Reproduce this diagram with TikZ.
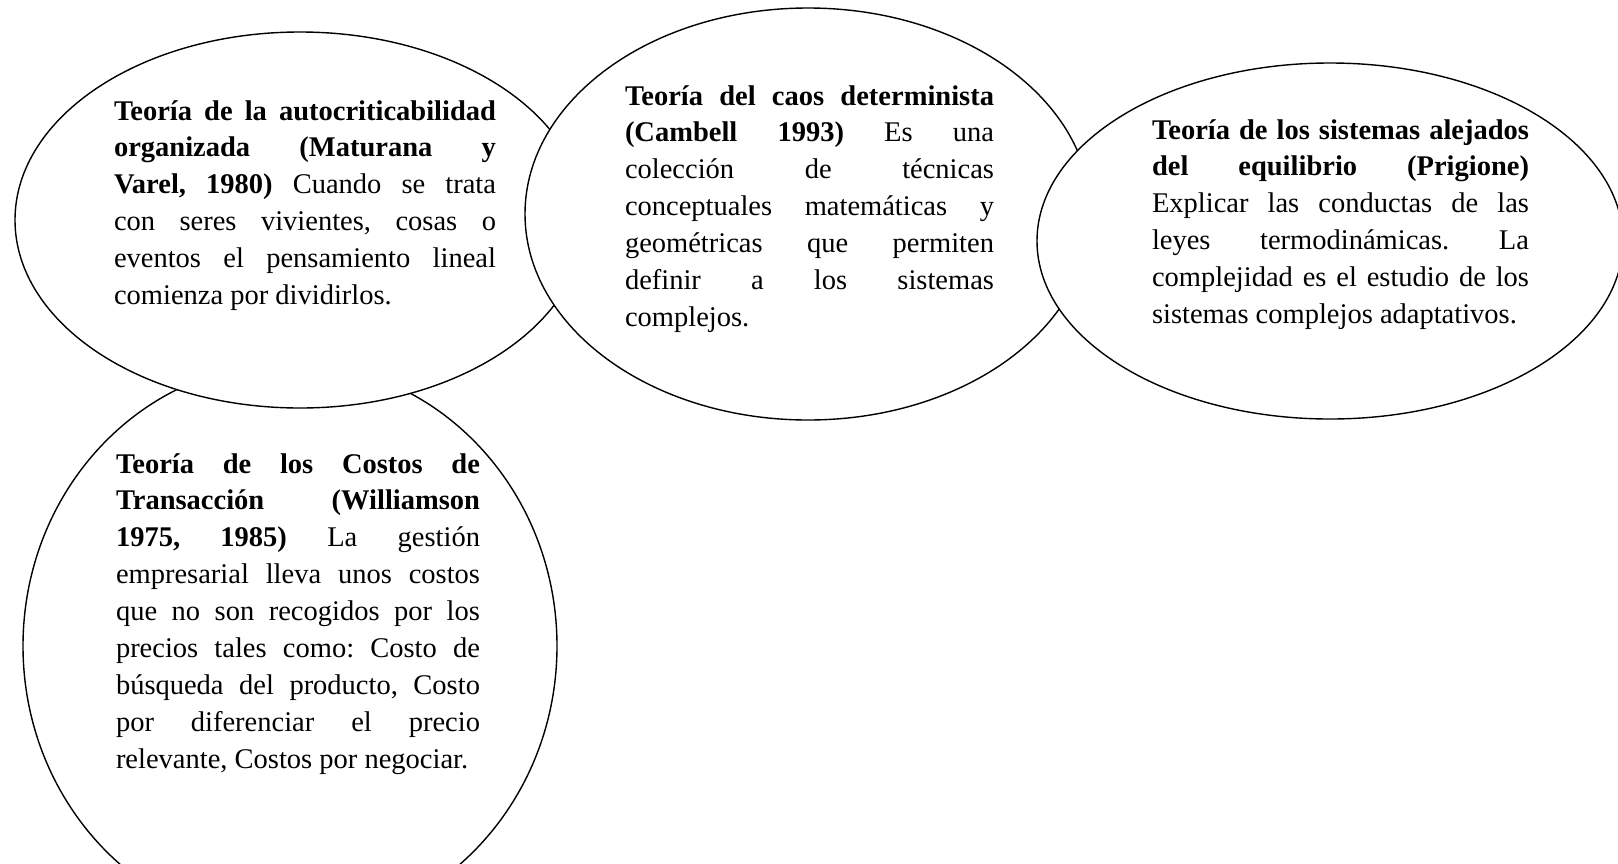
\documentclass[tikz,border=0pt]{standalone}
\usepackage{fontspec}
\setmainfont{Liberation Serif}[Ligatures=NoCommon]
\usetikzlibrary{shapes.geometric}
\tikzset{
  blob/.style={ellipse, draw=black, line width=1.4pt, fill=white, inner sep=0pt},
  txt/.style={anchor=base west, inner sep=0pt, outer sep=0pt, align=left,
    font=\fontsize{28.5}{36.9}\selectfont}
}
\newcommand{\jline}[1]{{\frenchspacing\spaceskip=0pt\xspaceskip=0pt\makebox[\linewidth][s]{#1}}}
\newcommand{\lline}[1]{{\frenchspacing\spaceskip=0pt\xspaceskip=0pt\makebox[\linewidth][l]{#1}}}
\begin{document}
\begin{tikzpicture}[x=1pt,y=-1pt]
\useasboundingbox (0,0) rectangle (1618,863);
\clip (0,0) rectangle (1618,863);
\fill[white] (0,0) rectangle (1618,863);
% ellipses, back to front
\node[blob, minimum width=534pt, minimum height=566pt] (e4) at (290,646) {};
\node[blob, minimum width=570pt, minimum height=376pt] (e1) at (300,220) {};
\node[blob, minimum width=566pt, minimum height=412pt] (e2) at (808,214) {};
\node[blob, minimum width=586pt, minimum height=356pt] (e3) at (1330,241) {};
% texts
\node[txt, text width=382pt] (t1) at (114,120) {%
\jline{\textbf{Teoría de la autocriticabilidad}}\\
\jline{\textbf{organizada (Maturana y}}\\
\jline{\textbf{Varel, 1980)} Cuando se trata}\\
\jline{con seres vivientes, cosas o}\\
\jline{eventos el pensamiento lineal}\\
\lline{comienza por dividirlos.}};
\node[txt, text width=369pt] (t2) at (625,105) {%
\jline{\textbf{Teoría del caos determinista}}\\
\jline{\textbf{(Cambell 1993)} Es una}\\
\jline{colección de técnicas}\\
\jline{conceptuales matemáticas y}\\
\jline{geométricas que permiten}\\
\jline{definir a los sistemas}\\
\lline{complejos.}};
\node[txt, text width=377pt] (t3) at (1152,139) {%
\jline{\textbf{Teoría de los sistemas alejados}}\\
\jline{\textbf{del equilibrio (Prigione)}}\\
\jline{Explicar las conductas de las}\\
\jline{leyes termodinámicas. La}\\
\jline{complejidad es el estudio de los}\\
\lline{sistemas complejos adaptativos.}};
\node[txt, text width=364pt] (t4) at (116,473) {%
\jline{\textbf{Teoría de los Costos de}}\\
\jline{\textbf{Transacción (Williamson}}\\
\jline{\textbf{1975, 1985)} La gestión}\\
\jline{empresarial lleva unos costos}\\
\jline{que no son recogidos por los}\\
\jline{precios tales como: Costo de}\\
\jline{búsqueda del producto, Costo}\\
\jline{por diferenciar el precio}\\
\lline{relevante, Costos por negociar.}};
\end{tikzpicture}
\end{document}
